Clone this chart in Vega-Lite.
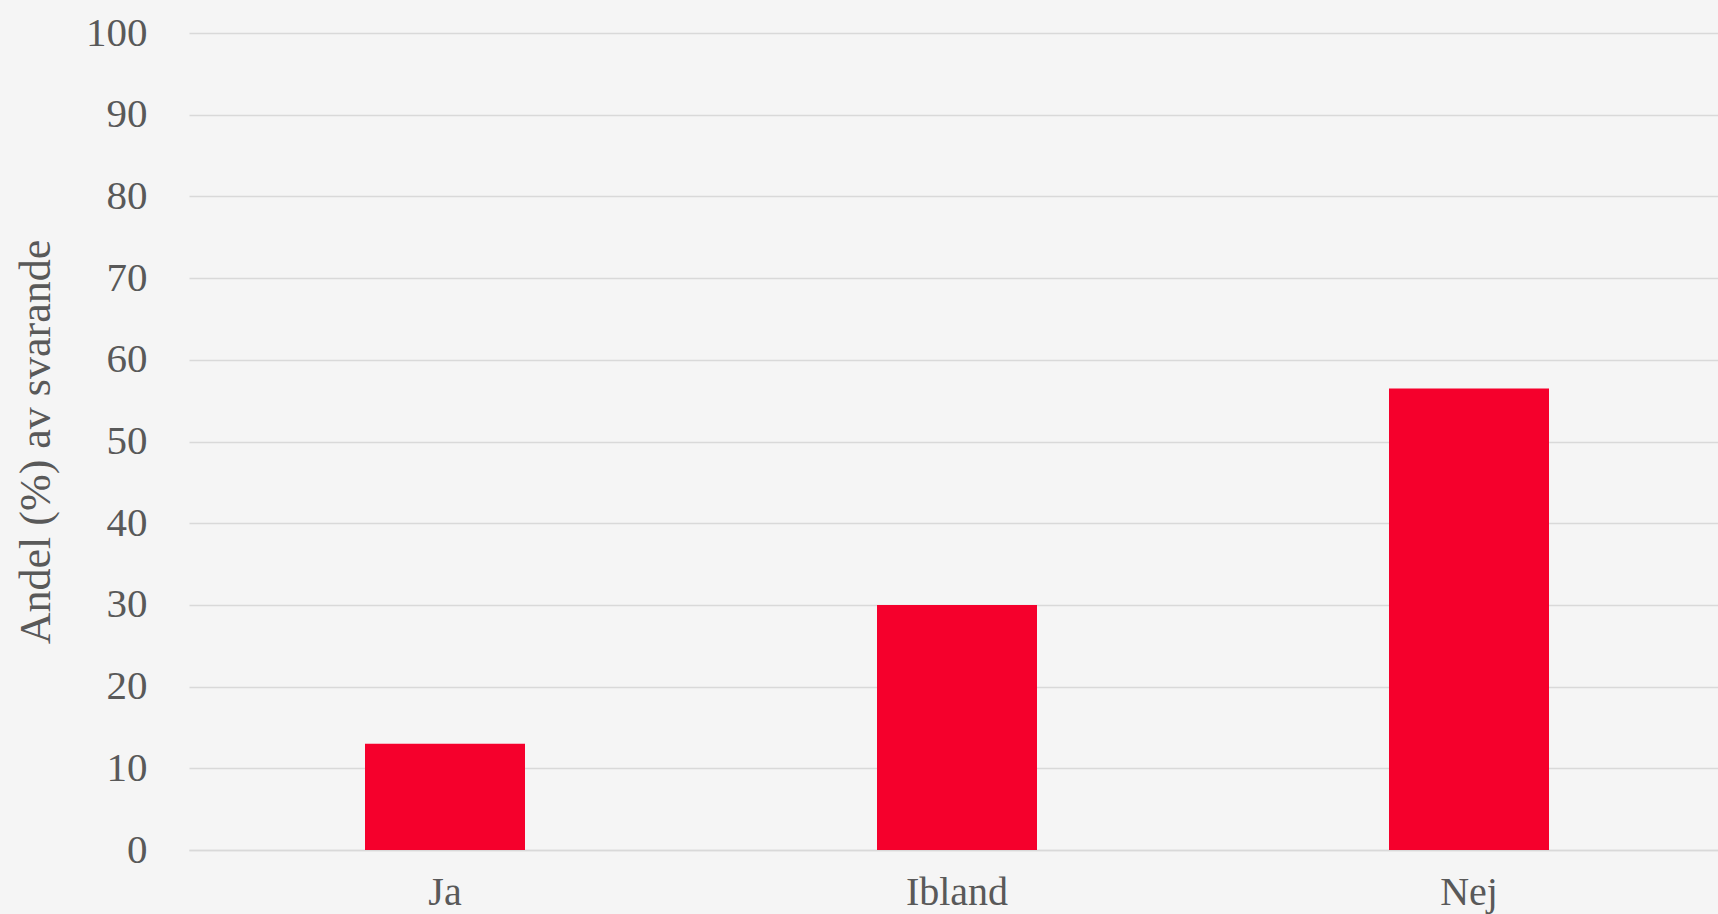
{
  "$schema": "https://vega.github.io/schema/vega-lite/v6.json",
  "description": "Andel svarande per svarsalternativ",
  "autosize": "none",
  "padding": {"left": 189, "top": 33, "right": 0, "bottom": 64},
  "width": 1536,
  "height": 817,
  "background": "#f5f5f5",
  "data": {
    "values": [
      {"svar": "Ja", "andel": 13},
      {"svar": "Ibland", "andel": 30},
      {"svar": "Nej", "andel": 56.5}
    ]
  },
  "config": {
    "view": {"stroke": null},
    "font": "Liberation Serif",
    "axis": {
      "labelFont": "Liberation Serif",
      "titleFont": "Liberation Serif",
      "labelColor": "#595959",
      "titleColor": "#595959",
      "gridColor": "#d9d9d9",
      "gridWidth": 1.5,
      "ticks": false
    }
  },
  "mark": {"type": "bar", "color": "#f5002c"},
  "encoding": {
    "x": {
      "field": "svar",
      "type": "nominal",
      "sort": null,
      "title": null,
      "scale": {"paddingInner": 0.6875, "paddingOuter": 0.34375},
      "axis": {
        "labelAngle": 0,
        "labelFontSize": 40,
        "labelPadding": 22,
        "domainColor": "#d9d9d9",
        "domainWidth": 1.5,
        "grid": false
      }
    },
    "y": {
      "field": "andel",
      "type": "quantitative",
      "title": "Andel (%) av svarande",
      "scale": {"domain": [0, 100], "nice": false},
      "axis": {
        "values": [0, 10, 20, 30, 40, 50, 60, 70, 80, 90, 100],
        "labelFontSize": 41,
        "labelPadding": 42,
        "titleFontSize": 44,
        "titleFontWeight": "normal",
        "titlePadding": 27,
        "domain": false
      }
    }
  }
}
